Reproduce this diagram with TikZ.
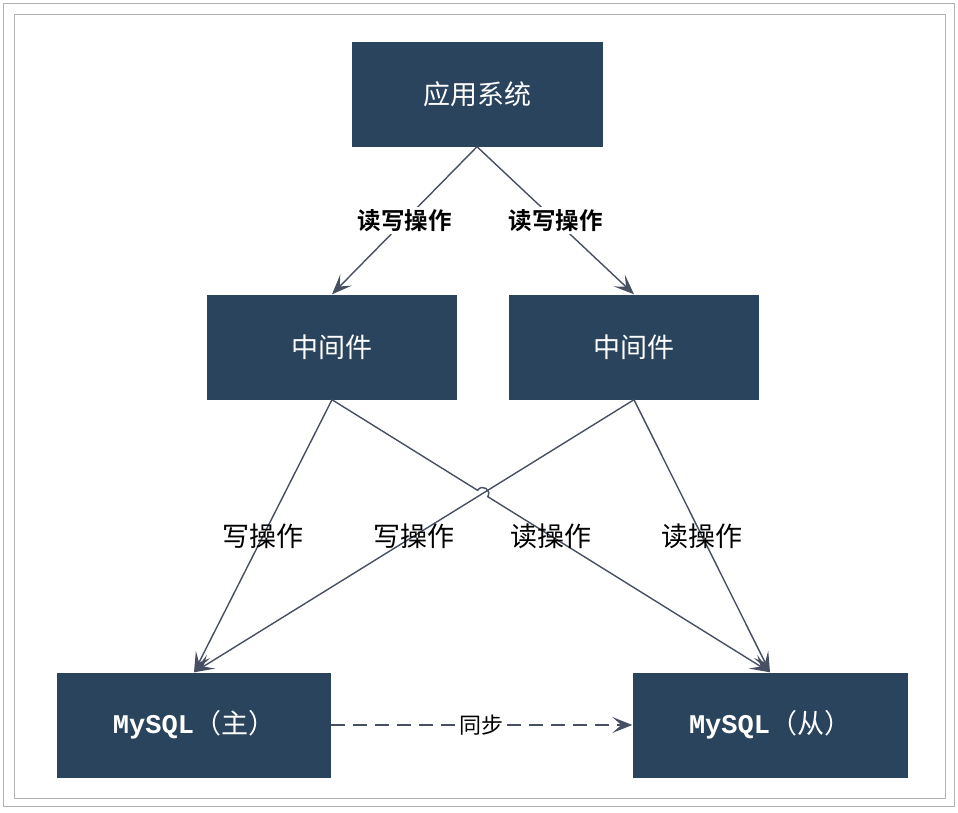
\documentclass[tikz,border=0pt]{standalone}
\usepackage{fontspec}
\newfontfamily\cjk{Noto Sans CJK SC}[BoldFont={Noto Sans CJK SC Bold}]
\newfontfamily\mono{Liberation Mono}
\usetikzlibrary{arrows.meta,calc}
\definecolor{boxblue}{RGB}{42,68,94}
\definecolor{linegray}{RGB}{70,80,98}
\definecolor{framegray}{RGB}{178,180,178}
\tikzset{
	box/.style={fill=boxblue, text=white, minimum width=250pt, minimum height=105pt, inner sep=0pt, font=\cjk\fontsize{27}{27}\selectfont},
	link/.style={draw=linegray, line width=1.4pt, -{Stealth[length=20pt,width=16pt,inset=9pt]}},
	lbl/.style={font=\cjk\fontsize{27}{27}\selectfont, text=black, inner sep=2pt},
	toplbl/.style={font=\cjk\bfseries\fontsize{23.5}{23.5}\selectfont, text=black, inner sep=2pt, fill=white},
}
\begin{document}
\begin{tikzpicture}[x=1pt,y=-1pt]
		% page and frames
		\fill[white] (0,0) rectangle (958,812);
		\useasboundingbox (0,0) rectangle (958,812);
		\draw[framegray, line width=1pt] (3,3) rectangle (954,806);
		\draw[framegray, line width=1pt] (14,14) rectangle (945,798);
		% boxes
		\node[box, minimum width=251pt] (app) at (477,94) {应用系统};
		\node[box] (ml) at (332,347) {中间件};
		\node[box] (mr) at (634,347) {中间件};
		\node[box, minimum width=274pt] (sl) at (194,725) {{\mono\bfseries MySQL}（主）};
		\node[box, minimum width=275pt] (sr) at (770,725) {{\mono\bfseries MySQL}（从）};
		% read/write to middleware
		\draw[link] (app.south) -- node[toplbl] {读写操作} (ml.north);
		\draw[link] (app.south) -- node[toplbl] {读写操作} (mr.north);
		% middleware to databases
		\coordinate (hop) at (intersection of ml.south--sr.north and mr.south--sl.north);
		\coordinate (h1) at ($(hop)!6pt!(ml.south)$);
		\coordinate (h2) at ($(hop)!6pt!(sr.north)$);
		\draw[link] (ml.south) -- node[lbl] {写操作} (sl.north);
		\draw[link] (mr.south) -- node[lbl] {写操作} (sl.north);
		\draw[link] (ml.south) -- (h1) .. controls ($(h1)!8pt!90:(h2)$) and ($(h2)!8pt!-90:(h1)$) .. (h2) -- (sr.north);
		\node[lbl] (rd) at ($(ml.south)!.5!(sr.north)$) {读操作};
		\draw[link] (mr.south) -- node[lbl] {读操作} (sr.north);
		% sync
		\draw[link, dash pattern=on 14pt off 8pt] (sl.east) -- node[toplbl, font=\cjk\fontsize{22}{22}\selectfont] {同步} (sr.west);
	\end{tikzpicture}
\end{document}
